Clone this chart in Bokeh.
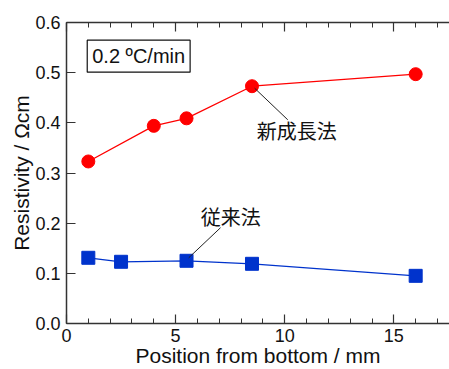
from bokeh.plotting import figure
from bokeh.models import LinearAxis, SingleIntervalTicker, FixedTicker, Label, Range1d, NumeralTickFormatter, CustomJSTickFormatter
from bokeh.embed import file_html
from bokeh.resources import INLINE

# Data
new_x = [1.0, 4.0, 5.5, 8.5, 16.0]
new_y = [0.323, 0.394, 0.409, 0.473, 0.497]
old_x = [1.0, 2.5, 5.5, 8.5, 16.0]
old_y = [0.131, 0.123, 0.125, 0.119, 0.095]
y_ticks = [0.0, 0.1, 0.2, 0.3, 0.4, 0.5, 0.6]

label_new = "新成長法"
label_old = "従来法"
box_text = "0.2 ºC/min"
x_title = "Position from bottom / mm"
y_title = "Resistivity / Ωcm"

LATIN = "Liberation Sans"
CJK = "Noto Sans CJK JP"
AX = "#333333"

p = figure(width=449, height=369, output_backend="svg", toolbar_location=None,
           x_range=Range1d(0, 17.55), y_range=Range1d(0, 0.6),
           min_border_left=66, min_border_right=0, min_border_top=22, min_border_bottom=0,
           x_axis_label=x_title, y_axis_label=y_title)
p.outline_line_color = None
p.xgrid.visible = False
p.ygrid.visible = False

xa = p.xaxis[0]
xa.ticker = SingleIntervalTicker(interval=5, num_minor_ticks=5)
ya = p.yaxis[0]
ya.ticker = FixedTicker(ticks=y_ticks)
ya.formatter = NumeralTickFormatter(format="0.0")
for ax in (xa, ya):
    ax.axis_line_color = AX
    ax.axis_line_width = 1.5
    ax.major_tick_line_color = AX
    ax.major_tick_line_width = 1.2
    ax.minor_tick_line_color = AX
    ax.major_tick_in = 9
    ax.major_tick_out = 0
    ax.minor_tick_in = 5
    ax.minor_tick_out = 0
    ax.major_label_text_font = LATIN
    ax.major_label_text_font_size = "18px"
    ax.major_label_text_color = "#111111"
    ax.axis_label_text_font = LATIN
    ax.axis_label_text_font_size = "21px"
    ax.axis_label_text_font_style = "normal"
    ax.axis_label_text_color = "#111111"
ya.minor_tick_line_color = None
xa.major_label_standoff = 5
xa.axis_label_standoff = -1
ya.major_label_standoff = 6
ya.axis_label_standoff = -1

top = LinearAxis(ticker=SingleIntervalTicker(interval=5, num_minor_ticks=5),
                 formatter=CustomJSTickFormatter(code="return ''"),
                 axis_line_color=AX, axis_line_width=1.5,
                 major_tick_line_color=AX, major_tick_line_width=1.2, minor_tick_line_color=AX,
                 major_tick_in=9, major_tick_out=0, minor_tick_in=5, minor_tick_out=0,
                 major_label_standoff=0)
p.add_layout(top, "above")

# series
p.line(new_x, new_y, line_color="#ff0000", line_width=1.3)
p.scatter(new_x, new_y, marker="circle", size=13, fill_color="#ff0000", line_color="#ff0000")
p.line(old_x, old_y, line_color="#0033cc", line_width=1.3)
p.scatter(old_x, old_y, marker="square", size=13, fill_color="#0033cc", line_color="#0033cc")

# leader lines
p.segment(x0=[8.62, 7.06], y0=[0.469, 0.191], x1=[10.14, 5.6], y1=[0.406, 0.131],
          line_color="#222222", line_width=1)

p.add_layout(Label(x=8.72, y=0.384, text=label_new, text_font=CJK, text_font_size="20px",
                   text_baseline="middle", text_align="left", text_color="#111111"))
p.add_layout(Label(x=6.15, y=0.213, text=label_old, text_font=CJK, text_font_size="20px",
                   text_baseline="middle", text_align="left", text_color="#111111"))

p.add_layout(Label(x=0.95, y=0.501, text=box_text, text_font=LATIN, text_font_size="20px",
                   text_color="#111111", border_line_color="#111111", border_line_width=1.2,
                   background_fill_color="white", padding=5))

open("out.html", "w").write(file_html(p, INLINE))
